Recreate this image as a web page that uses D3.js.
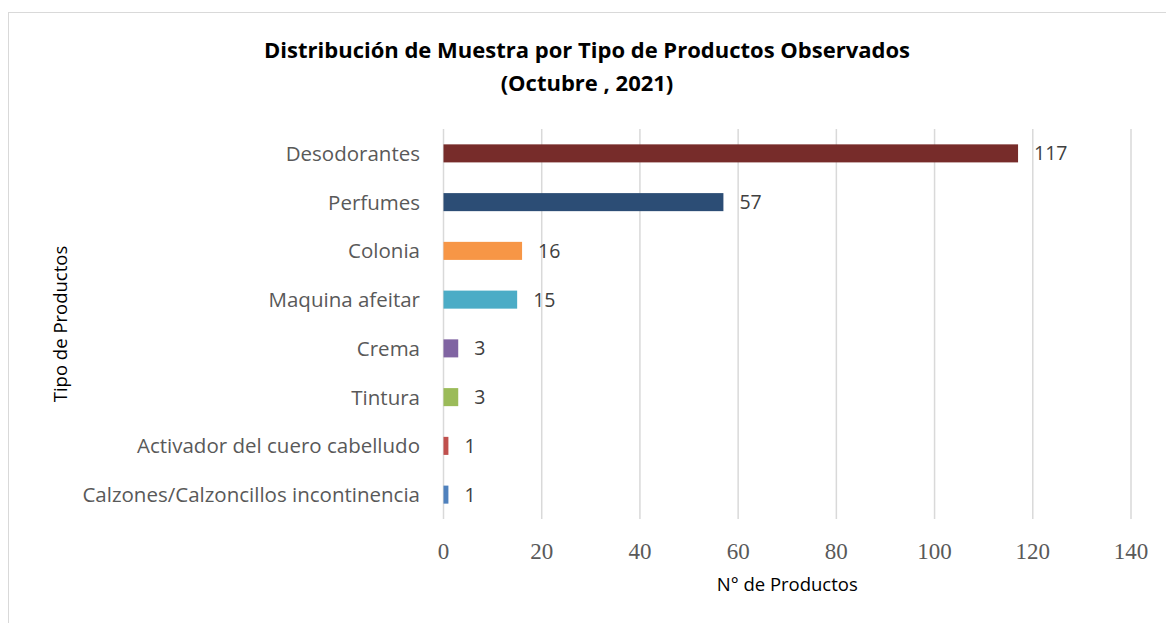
<!DOCTYPE html>
<html>
<head>
<meta charset="utf-8">
<script src="https://cdn.jsdelivr.net/npm/d3@7"></script>
<style>
  body { margin: 0; background: #fff; }
  svg { display: block; }
</style>
</head>
<body>
<svg id="chart" width="1166" height="623"></svg>
<script>
/*global d3*/
// categories top to bottom
const categories = ["Desodorantes", "Perfumes", "Colonia", "Maquina afeitar", "Crema", "Tintura", "Activador del cuero cabelludo", "Calzones/Calzoncillos incontinencia"]
const values = [117, 57, 16, 15, 3, 3, 1, 1]
const colors = ["#772C2A", "#2C4D75", "#F79646", "#4BACC6", "#8064A2", "#9BBB59", "#C0504D", "#4F81BD"]
const ticks = [0, 20, 40, 60, 80, 100, 120, 140]

const svg = d3.select("#chart")

// chart border
svg.append("rect")
  .attr("x", 8.5).attr("y", 12.5)
  .attr("width", 1170).attr("height", 620)
  .attr("fill", "none")
  .attr("stroke", "#d9d9d9")

const plotLeft = 443.5, plotRight = 1131, plotTop = 129, plotBottom = 519

const x = d3.scaleLinear().domain([0, 140]).range([plotLeft, plotRight])
const y = d3.scaleBand().domain(categories).range([plotTop, plotBottom]).paddingInner(0.63).paddingOuter(0.315)

// gridlines
svg.append("g")
  .selectAll("line")
  .data(ticks)
  .join("line")
  .attr("x1", d => x(d)).attr("x2", d => x(d))
  .attr("y1", plotTop).attr("y2", plotBottom)
  .attr("stroke", "#d9d9d9")
  .attr("stroke-width", 1.5)

// x tick labels
svg.append("g")
  .selectAll("text")
  .data(ticks)
  .join("text")
  .attr("x", d => x(d))
  .attr("y", 559)
  .attr("text-anchor", "middle")
  .attr("font-family", "'Liberation Serif', 'DejaVu Serif', serif")
  .attr("font-size", 23)
  .attr("fill", "#595959")
  .text(d => d)

// bars
svg.append("g")
  .selectAll("rect")
  .data(values)
  .join("rect")
  .attr("x", x(0))
  .attr("y", (d, i) => y(categories[i]))
  .attr("width", d => x(d) - x(0))
  .attr("height", y.bandwidth())
  .attr("fill", (d, i) => colors[i])

// value labels
svg.append("g")
  .selectAll("text")
  .data(values)
  .join("text")
  .attr("x", d => x(d) + 16)
  .attr("y", (d, i) => y(categories[i]) + y.bandwidth() / 2)
  .attr("dy", "0.36em")
  .attr("font-family", "'Open Sans', sans-serif")
  .attr("font-size", 19.5)
  .attr("fill", "#404040")
  .text(d => d)

// category labels
svg.append("g")
  .selectAll("text")
  .data(categories)
  .join("text")
  .attr("x", 420)
  .attr("y", d => y(d) + y.bandwidth() / 2)
  .attr("dy", "0.36em")
  .attr("text-anchor", "end")
  .attr("font-family", "'Open Sans', sans-serif")
  .attr("font-size", 20.5)
  .attr("fill", "#595959")
  .text(d => d)

// title
const title = svg.append("text")
  .attr("text-anchor", "middle")
  .attr("font-family", "'Open Sans', sans-serif")
  .attr("font-weight", "bold")
  .attr("font-size", 22)
  .attr("fill", "#000")
title.append("tspan").attr("x", 587).attr("y", 58).text("Distribución de Muestra por Tipo de Productos Observados")
title.append("tspan").attr("x", 587).attr("y", 91).text("(Octubre , 2021)")

// axis titles
svg.append("text")
  .attr("x", x(70)).attr("y", 591)
  .attr("text-anchor", "middle")
  .attr("font-family", "'Open Sans', sans-serif")
  .attr("font-size", 18.5)
  .attr("fill", "#000")
  .text("N° de Productos")

svg.append("text")
  .attr("transform", "translate(67," + (plotTop + plotBottom) / 2 + ") rotate(-90)")
  .attr("text-anchor", "middle")
  .attr("font-family", "'Open Sans', sans-serif")
  .attr("font-size", 18.5)
  .attr("fill", "#000")
  .text("Tipo de Productos")
</script>
</body>
</html>
